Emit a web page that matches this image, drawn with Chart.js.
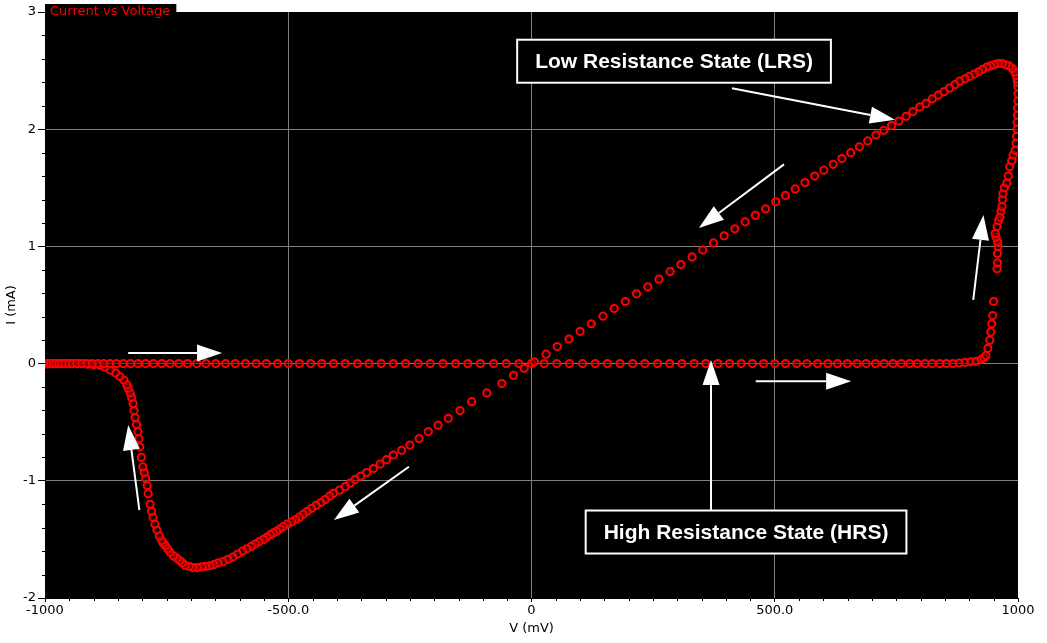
<!DOCTYPE html>
<html>
<head>
<meta charset="utf-8">
<title>Current vs Voltage</title>
<script src="https://cdn.jsdelivr.net/npm/chart.js@4.4.1/dist/chart.umd.min.js"></script>
<style>
  html, body { margin: 0; padding: 0; background: #fff; }
  #wrap { width: 1047px; height: 643px; }
</style>
</head>
<body>
<div id="wrap"><canvas id="iv-chart"></canvas></div>
<script>
// sweep branches: voltage in mV, current in mA

// 0 -> +1000 mV (HRS, then set)
const setV = [
  0, 26, 52, 78, 105, 131, 156, 182, 208, 233,
  259, 284, 309, 334, 358, 383, 407, 431, 454, 477,
  500, 522, 545, 566, 588, 609, 629, 649, 669, 688,
  707, 725, 743, 760, 777, 793, 809, 824, 839, 853,
  866, 879, 891, 903, 914, 924, 930, 934, 938, 942,
  944, 946, 948, 950, 957, 958, 958, 959, 958, 955,
  953, 957, 960, 963, 965, 967, 968, 969, 972, 977,
  980, 983, 987, 990, 994, 996, 997, 998, 998, 999,
  999, 1000, 1000, 1000
];
const setI = [
  0, 0, 0, 0, 0, 0, 0, 0, 0, 0,
  0, 0, 0, 0, 0, 0, 0, 0, 0, 0,
  0, 0, 0, 0, 0, 0, 0, 0, 0, 0,
  0, 0, 0, 0, 0, 0, 0, 0, 0, 0,
  0, 0.005, 0.01, 0.015, 0.02, 0.035, 0.05, 0.07, 0.13, 0.20,
  0.27, 0.34, 0.41, 0.53, 0.81, 0.86, 0.94, 1.00, 1.04, 1.08,
  1.11, 1.17, 1.22, 1.25, 1.30, 1.34, 1.40, 1.45, 1.50, 1.54,
  1.60, 1.68, 1.73, 1.78, 1.82, 1.88, 1.94, 2.00, 2.06, 2.12,
  2.18, 2.24, 2.30, 2.36
];

// +1000 -> 0 mV (LRS)
const lrsV = [
  999, 998, 996, 993, 988, 982, 975, 967, 959, 951,
  943, 936, 927, 919, 910, 900, 891, 880, 870, 859,
  848, 836, 824, 811, 798, 784, 770, 755, 740, 724,
  708, 691, 674, 656, 638, 620, 601, 582, 562, 542,
  522, 502, 481, 460, 439, 418, 396, 374, 352, 330,
  307, 285, 262, 239, 216, 193, 170, 147, 123, 100,
  77, 53, 30, 6
];
const lrsI = [
  2.40, 2.43, 2.46, 2.49, 2.52, 2.54, 2.55, 2.56, 2.56, 2.55,
  2.54, 2.53, 2.51, 2.49, 2.47, 2.45, 2.43, 2.41, 2.38, 2.35,
  2.32, 2.29, 2.26, 2.22, 2.19, 2.15, 2.11, 2.07, 2.03, 1.99,
  1.95, 1.90, 1.85, 1.80, 1.75, 1.70, 1.65, 1.60, 1.545, 1.49,
  1.435, 1.38, 1.32, 1.265, 1.21, 1.15, 1.09, 1.03, 0.97, 0.91,
  0.845, 0.785, 0.72, 0.655, 0.595, 0.53, 0.47, 0.405, 0.34, 0.275,
  0.21, 0.145, 0.08, 0.015
];

// 0 -> -1000 mV (LRS, then reset)
const resetV = [
  -15, -37, -61, -92, -123, -147, -171, -192, -212, -231,
  -250, -267, -284, -298, -311, -325, -339, -351, -363, -373,
  -383, -395, -407, -415, -424, -433, -443, -452, -461, -469,
  -477, -485, -493, -502, -510, -517, -524, -531, -537, -544,
  -551, -560, -568, -576, -585, -594, -604, -614, -624, -634,
  -644, -653, -661, -670, -678, -687, -696, -704, -712, -718,
  -723, -729, -736, -743, -748, -753, -757, -760, -765, -770,
  -774, -778, -781, -784, -788, -790, -793, -796, -799, -802,
  -805, -807, -809, -812, -815, -817, -819, -822, -825, -829,
  -832, -838, -846, -855, -866, -877, -887, -900, -912, -924,
  -934, -943, -951, -959, -966, -972, -978, -983, -988, -991,
  -995, -997, -999, -1000
];
const resetI = [
  -0.04, -0.10, -0.17, -0.25, -0.325, -0.40, -0.467, -0.525, -0.58, -0.64,
  -0.695, -0.74, -0.78, -0.82, -0.857, -0.895, -0.93, -0.96, -0.99, -1.02,
  -1.05, -1.08, -1.107, -1.13, -1.16, -1.185, -1.21, -1.235, -1.26, -1.285,
  -1.31, -1.33, -1.35, -1.37, -1.39, -1.41, -1.43, -1.445, -1.46, -1.48,
  -1.50, -1.52, -1.54, -1.56, -1.58, -1.60, -1.625, -1.65, -1.67, -1.69,
  -1.70, -1.715, -1.725, -1.73, -1.735, -1.74, -1.74, -1.73, -1.72, -1.70,
  -1.68, -1.66, -1.64, -1.61, -1.58, -1.55, -1.53, -1.51, -1.47, -1.42,
  -1.37, -1.31, -1.26, -1.20, -1.11, -1.04, -0.98, -0.93, -0.88, -0.80,
  -0.71, -0.64, -0.58, -0.52, -0.46, -0.40, -0.34, -0.29, -0.25, -0.21,
  -0.18, -0.14, -0.11, -0.08, -0.055, -0.03, -0.015, -0.01, -0.005, 0,
  0, 0, 0, 0, 0, 0, 0, 0, 0, 0,
  0, 0, 0, 0
];

// -1000 -> 0 mV (HRS)
const hrsV = [
  -1000, -999, -997, -995, -991, -988, -983, -978, -972, -966,
  -959, -951, -943, -934, -924, -914, -903, -891, -879, -866,
  -853, -839, -824, -809, -793, -777, -760, -743, -725, -707,
  -688, -669, -649, -629, -609, -588, -566, -545, -522, -500,
  -477, -454, -431, -407, -383, -358, -334, -309, -284, -259,
  -233, -208, -182, -156, -131, -105, -78, -52, -26
];
const hrsI = [
  0, 0, 0, 0, 0, 0, 0, 0, 0, 0,
  0, 0, 0, 0, 0, 0, 0, 0, 0, 0,
  0, 0, 0, 0, 0, 0, 0, 0, 0, 0,
  0, 0, 0, 0, 0, 0, 0, 0, 0, 0,
  0, 0, 0, 0, 0, 0, 0, 0, 0, 0,
  0, 0, 0, 0, 0, 0, 0, 0, 0
];

const xTicks = [-1000, -500, 0, 500, 1000];
const xTickLabels = ['-1000', '-500.0', '0', '500.0', '1000'];
const yTicks = [-2, -1, 0, 1, 2, 3];
const yTickLabels = ['-2', '-1', '0', '1', '2', '3'];

// annotations, in data units (mV, mA)
const stateLabels = [
  { text: 'Low Resistance State (LRS)', x: 293, y: 2.58 },
  { text: 'High Resistance State (HRS)', x: 441, y: -1.437 }
];
const arrows = [
  [412, 2.35, 747, 2.08],
  [519, 1.70, 344, 1.157],
  [-252, -0.88, -406, -1.335],
  [-829, 0.09, -636, 0.09],
  [-806, -1.25, -829, -0.524],
  [461, -0.15, 657, -0.15],
  [908, 0.543, 929, 1.268],
  [369, -1.25, 369, 0.03]
];

function zip(vs, is) {
  return vs.map((v, i) => ({ x: v, y: is[i] }));
}

const points = [].concat(zip(setV, setI), zip(lrsV, lrsI), zip(resetV, resetI), zip(hrsV, hrsI));

function drawArrow(ctx, x1, y1, x2, y2) {
  const ang = Math.atan2(y2 - y1, x2 - x1);
  const len = 25, half = 8.5;
  const bx = x2 - len * Math.cos(ang), by = y2 - len * Math.sin(ang);
  ctx.beginPath();
  ctx.moveTo(x1, y1);
  ctx.lineTo(bx, by);
  ctx.stroke();
  ctx.beginPath();
  ctx.moveTo(x2, y2);
  ctx.lineTo(bx + half * Math.sin(ang), by - half * Math.cos(ang));
  ctx.lineTo(bx - half * Math.sin(ang), by + half * Math.cos(ang));
  ctx.closePath();
  ctx.fill();
}

const plotDecor = {
  id: 'plotDecor',
  beforeDraw(chart) {
    const { ctx, chartArea: a } = chart;
    ctx.save();
    ctx.fillStyle = '#fff';
    ctx.fillRect(0, 0, chart.width, chart.height);
    ctx.fillStyle = '#000';
    ctx.fillRect(a.left, a.top, a.right - a.left, a.bottom - a.top);
    // title tab
    ctx.font = '13px "DejaVu Sans"';
    const w = ctx.measureText('Current vs Voltage').width;
    ctx.fillRect(a.left, a.top - 8, w + 11, 10);
    ctx.restore();
  },
  afterDraw(chart) {
    const { ctx, chartArea: a } = chart;
    const xs = chart.scales.x, ys = chart.scales.y;
    ctx.save();

    // minor ticks
    ctx.strokeStyle = '#000';
    ctx.lineWidth = 1;
    ctx.beginPath();
    for (let v = -1000; v <= 1000; v += 50) {
      if (v % 500 === 0) continue;
      const px = Math.round(xs.getPixelForValue(v)) + 0.5;
      ctx.moveTo(px, a.bottom);
      ctx.lineTo(px, a.bottom + 3);
    }
    for (let k = -10; k <= 15; k++) {
      if (k % 5 === 0) continue;
      const py = Math.round(ys.getPixelForValue(k / 5)) + 0.5;
      ctx.moveTo(a.left - 3, py);
      ctx.lineTo(a.left, py);
    }
    ctx.stroke();

    // title
    ctx.fillStyle = '#ff0000';
    ctx.font = '13px "DejaVu Sans"';
    ctx.textBaseline = 'alphabetic';
    ctx.fillText('Current vs Voltage', a.left + 5, a.top + 3);

    // arrows
    ctx.strokeStyle = '#fff';
    ctx.fillStyle = '#fff';
    ctx.lineWidth = 2;
    arrows.forEach(ar => {
      drawArrow(ctx, xs.getPixelForValue(ar[0]), ys.getPixelForValue(ar[1]),
        xs.getPixelForValue(ar[2]), ys.getPixelForValue(ar[3]));
    });

    // state boxes
    ctx.font = 'bold 21px "Liberation Sans"';
    ctx.textAlign = 'center';
    ctx.textBaseline = 'middle';
    stateLabels.forEach(s => {
      const cx = xs.getPixelForValue(s.x), cy = ys.getPixelForValue(s.y);
      const w = ctx.measureText(s.text).width + 36, h = 43;
      ctx.fillStyle = '#000';
      ctx.fillRect(cx - w / 2, cy - h / 2, w, h);
      ctx.strokeStyle = '#fff';
      ctx.lineWidth = 2;
      ctx.strokeRect(cx - w / 2, cy - h / 2, w, h);
      ctx.fillStyle = '#fff';
      ctx.fillText(s.text, cx, cy + 1);
    });
    ctx.restore();
  }
};

const edge = c => c.tick && (c.tick.value === -1000 || c.tick.value === 1000 || c.tick.value === 3 || c.tick.value === -2);

new Chart(document.getElementById('iv-chart'), {
  type: 'scatter',
  data: {
    datasets: [{
      label: 'Current vs Voltage',
      data: points,
      showLine: false,
      pointRadius: 3.6,
      pointBorderWidth: 2,
      pointBorderColor: '#ff0000',
      pointBackgroundColor: 'rgba(60,0,0,0.5)'
    }]
  },
  options: {
    responsive: true,
    maintainAspectRatio: false,
    animation: false,
    devicePixelRatio: 1,
    layout: { padding: { left: 0, right: 29, top: 12, bottom: 0 } },
    plugins: { legend: { display: false }, tooltip: { enabled: false } },
    scales: {
      x: {
        type: 'linear',
        min: -1000,
        max: 1000,
        afterFit: s => { s.height = 45; },
        afterBuildTicks: s => { s.ticks = xTicks.map(v => ({ value: v })); },
        ticks: {
          callback: v => xTickLabels[xTicks.indexOf(v)],
          font: { family: 'DejaVu Sans', size: 13 },
          color: '#000',
          padding: 1,
          maxRotation: 0,
          autoSkip: false
        },
        grid: {
          color: c => edge(c) ? 'rgba(0,0,0,0)' : '#808080',
          tickColor: '#000',
          tickLength: 4,
          lineWidth: 1
        },
        border: { display: true, color: '#000' },
        title: {
          display: true,
          text: 'V (mV)',
          font: { family: 'DejaVu Sans', size: 13 },
          color: '#000',
          padding: { top: 0, bottom: 7 }
        }
      },
      y: {
        type: 'linear',
        min: -2,
        max: 3,
        afterFit: s => { s.width = 45; },
        afterBuildTicks: s => { s.ticks = yTicks.map(v => ({ value: v })); },
        ticks: {
          callback: v => yTickLabels[yTicks.indexOf(v)],
          font: { family: 'DejaVu Sans', size: 13 },
          color: '#000',
          padding: 2
        },
        grid: {
          color: c => edge(c) ? 'rgba(0,0,0,0)' : '#808080',
          tickColor: '#000',
          tickLength: 7,
          lineWidth: 1
        },
        border: { display: true, color: '#000' },
        title: {
          display: true,
          text: 'I (mA)',
          font: { family: 'DejaVu Sans', size: 13 },
          color: '#000',
          padding: { top: 4, bottom: 0 }
        }
      }
    }
  },
  plugins: [plotDecor]
});
</script>
</body>
</html>
